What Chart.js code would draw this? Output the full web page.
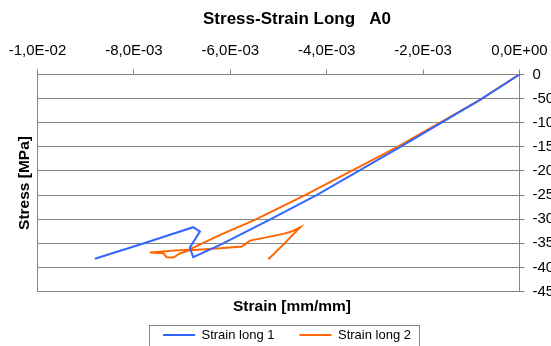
<!DOCTYPE html>
<html>
<head>
<meta charset="utf-8">
<script src="https://cdn.jsdelivr.net/npm/chart.js@4.4.0/dist/chart.umd.min.js"></script>
<style>
  html, body { margin: 0; padding: 0; background: #fff; }
  #wrap { width: 551px; height: 346px; }
</style>
</head>
<body>
<div id="wrap"><canvas id="stressStrain"></canvas></div>
<script>
// strain in mm/mm, stress in MPa
const strain1 = [0, -0.00082, -0.00248, -0.00421, -0.00518, -0.00621, -0.00677, -0.00684, -0.00663, -0.00677, -0.00787, -0.00881];
const stress1 = [0, -52.5, -150.6, -250, -301, -353, -378.7, -359, -325.6, -316.5, -352.5, -382];

const strain2 = [0, -0.00082, -0.00254, -0.00445, -0.00549, -0.00621, -0.00684, -0.00767, -0.00739, -0.00732, -0.00718, -0.00704, -0.00684, -0.00621, -0.00576, -0.00559, -0.00490, -0.00473, -0.00455, -0.00487, -0.00521];
const stress2 = [0, -52.5, -150.6, -250.1, -301.3, -332.4, -362.5, -369.1, -370.4, -378.7, -379.5, -370.4, -364.5, -360, -356.7, -344.3, -330.4, -325.6, -316.5, -349.6, -382.8];

const seriesNames = ['Strain long 1', 'Strain long 2'];
const xTicks = [-0.01, -0.008, -0.006, -0.004, -0.002, 0];
const yTicks = [0, -50, -100, -150, -200, -250, -300, -350, -400, -450];

Chart.defaults.font.family = "'Liberation Sans', Arial, sans-serif";
Chart.defaults.color = '#000';

const axisGrey = '#868686';

function toPoints(xs, ys) {
    return xs.map((x, i) => ({ x: x, y: ys[i] }));
}

// -1,0E-02 style labels
function sci(v) {
    const s = Number(v).toExponential(1);
    const parts = s.split('e');
    const exp = parseInt(parts[1], 10);
    const e = (exp < 0 ? '-' : '+') + String(Math.abs(exp)).padStart(2, '0');
    return parts[0].replace('.', ',') + 'E' + e;
}

const textPlugin = {
    id: 'texts',
    afterDraw(chart) {
        const ctx = chart.ctx;
        ctx.save();
        ctx.fillStyle = '#000';
        ctx.textAlign = 'center';
        ctx.textBaseline = 'middle';
        ctx.font = "bold 17px 'Liberation Sans', Arial, sans-serif";
        ctx.fillText('Stress-Strain Long   A0', 297, 19);
        ctx.font = "bold 15.5px 'Liberation Sans', Arial, sans-serif";
        ctx.fillText('Strain [mm/mm]', 292, 307);
        ctx.translate(25, 183);
        ctx.rotate(-Math.PI / 2);
        ctx.fillText('Stress [MPa]', 0, 0);
        ctx.restore();

        // legend frame
        const boxes = chart.legend.legendHitBoxes;
        if (boxes && boxes.length) {
            const last = boxes[boxes.length - 1];
            const l = Math.round(boxes[0].left - 14) + 0.5;
            const r = Math.round(last.left + last.width + 8) + 0.5;
            ctx.save();
            ctx.strokeStyle = axisGrey;
            ctx.lineWidth = 1;
            ctx.strokeRect(l, 325.5, r - l, 30);
            ctx.restore();
        }
    }
};

const ctx = document.getElementById('stressStrain').getContext('2d');
const chart = new Chart(ctx, {
    type: 'scatter',
    data: {
        datasets: [{
            label: seriesNames[0],
            data: toPoints(strain1, stress1),
            showLine: true,
            borderColor: '#3366ff',
            backgroundColor: '#3366ff',
            borderWidth: 2,
            pointRadius: 0,
            tension: 0
        }, {
            label: seriesNames[1],
            data: toPoints(strain2, stress2),
            showLine: true,
            borderColor: '#ff6600',
            backgroundColor: '#ff6600',
            borderWidth: 2,
            pointRadius: 0,
            tension: 0
        }]
    },
    options: {
        responsive: true,
        maintainAspectRatio: false,
        animation: false,
        layout: { padding: { left: 23, right: 0, top: 0, bottom: -5.5 } },
        scales: {
            x: {
                type: 'linear',
                position: 'top',
                min: xTicks[0],
                max: xTicks[xTicks.length - 1],
                afterBuildTicks: s => { s.ticks = xTicks.map(v => ({ value: v })); },
                ticks: {
                    callback: v => sci(v),
                    font: { size: 15 },
                    padding: 10,
                    maxRotation: 0,
                    minRotation: 0,
                    autoSkip: false
                },
                grid: { drawOnChartArea: false, tickLength: 5, color: axisGrey },
                border: { color: axisGrey },
                afterFit: s => { s.height = 74.5; s.paddingLeft = 0; s.paddingRight = 0; }
            },
            y: {
                type: 'linear',
                position: 'right',
                min: yTicks[yTicks.length - 1],
                max: yTicks[0],
                afterBuildTicks: s => { s.ticks = yTicks.map(v => ({ value: v })); },
                ticks: {
                    callback: v => String(v),
                    font: { size: 15 },
                    padding: 8,
                    autoSkip: false
                },
                grid: { color: axisGrey, tickLength: 5 },
                border: { color: axisGrey },
                afterFit: s => { s.width = 31.5; s.paddingTop = 0; s.paddingBottom = 0; }
            },
            yL: {
                axis: 'y',
                position: 'left',
                ticks: { display: false },
                grid: { drawOnChartArea: false, drawTicks: false },
                border: { color: axisGrey },
                afterFit: s => { s.width = 14.5; }
            },
            xB: {
                axis: 'x',
                position: 'bottom',
                ticks: { display: false },
                grid: { drawOnChartArea: false, drawTicks: false },
                border: { color: axisGrey },
                afterFit: s => { s.height = 11.9; }
            }
        },
        plugins: {
            title: { display: false },
            tooltip: { enabled: false },
            legend: {
                position: 'bottom',
                labels: {
                    usePointStyle: true,
                    pointStyle: 'line',
                    pointStyleWidth: 32,
                    boxWidth: 32,
                    boxHeight: 12,
                    padding: 25,
                    font: { size: 13 },
                    color: '#000'
                }
            }
        }
    },
    plugins: [textPlugin]
});
</script>
</body>
</html>
